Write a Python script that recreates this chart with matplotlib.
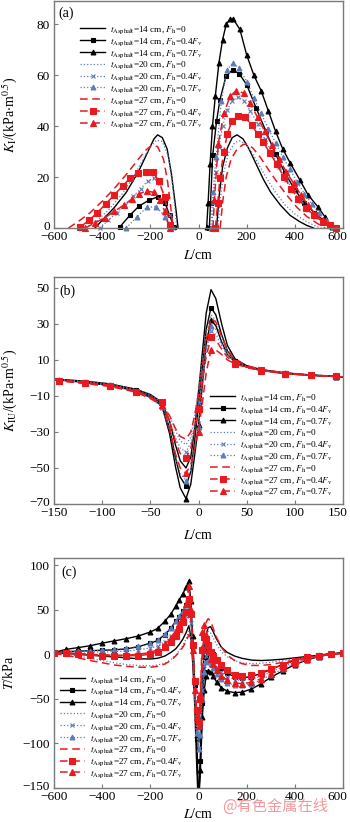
import numpy as np
import matplotlib
matplotlib.use('Agg')
import matplotlib.pyplot as plt
from matplotlib.transforms import ScaledTranslation

plt.rcParams['font.family'] = ['Liberation Serif', 'DejaVu Serif']
plt.rcParams['mathtext.fontset'] = 'stix'
plt.rcParams['axes.unicode_minus'] = True

nan = np.nan

# ---------- panel (a): K_I vs L, two humps per case (nan splits them)
a_L1 = [-430, -400, -350, -300, -250, -210, -185, -170, -150, -130, -112, -100, -92, -85, nan,
        75, 85, 100, 120, 140, 160, 185, 210, 240, 270, 300, 340, 380, 420, 450, 478]
a_K1 = [0, 3, 8, 14, 22, 30, 35, 36.6, 35.5, 31, 21, 12, 6, 0, nan,
        0, 12, 24, 31.5, 35.5, 36.6, 35, 31, 25, 19, 14, 9, 5, 2.5, 1, 0]
a_L2 = [-326, -284, -246, -204, -167, -139, -120, -102, nan,
        45, 50, 59, 75, 89, 114, 142, 170, 200, 240, 280, 320, 360, 400, 440, 480, 520, 560]
a_K2 = [0.5, 5.1, 8.7, 11, 12.3, 9.8, 5, 0.5, nan,
        0, 10, 28.7, 42, 50.4, 59.6, 62.2, 60.5, 56.3, 47, 38, 29, 21.5, 15, 10, 6, 3, 0.5]
a_L3 = [34, 40, 48, 58, 70, 85, 100, 115, 130, 145, 172, 200, 230, 260, 290, 320, 350, 380,
        420, 455, 495, 525, 555]
a_K3 = [0.5, 10, 25, 40, 52, 65, 74, 80, 82, 82, 78, 68, 60, 54, 46, 38, 31, 25.7,
        19, 13, 8.4, 4.4, 0.5]
a_L4 = [-470, -420, -370, -320, -270, -230, -200, -175, -150, -125, -108, -98, -90, nan,
        80, 90, 105, 125, 150, 170, 195, 220, 250, 280, 320, 360, 400, 440, 480, 510]
a_K4 = [0, 3, 7.5, 13, 20, 27, 32, 34.5, 34, 28, 17, 8, 0, nan,
        0, 11, 22, 29.5, 33.5, 34.3, 33, 30, 25, 20, 14, 9, 5.5, 3, 1, 0]
a_L5 = [-410, -375, -340, -305, -270, -240, -210, -185, -160, -140, -120, -105, nan,
        55, 62, 72, 85, 100, 120, 140, 165, 190, 215, 245, 275, 305, 335, 365, 395, 425,
        455, 485, 515, 545, 565]
a_K5 = [0, 3, 6, 9, 12.5, 15.5, 18.5, 19.5, 17.5, 12, 5, 0, nan,
        0, 10, 22, 32, 40, 46.5, 50, 51.5, 50, 46, 41, 35, 29.5, 24, 19, 14.5, 10.5,
        7, 4.5, 2.5, 1, 0]
a_L6 = [-300, -254, -215, -176, -139, -120, nan,
        50, 60, 73, 95, 117, 142, 170, 200, 230, 260, 290, 320, 350, 380, 410, 440, 470,
        500, 530, 560]
a_K6 = [0, 4.5, 8.1, 8.4, 4.5, 0, nan,
        0, 14, 28, 50, 62, 64.8, 62.8, 57.5, 51, 45, 39, 33.5, 28, 23, 18, 13.5, 9.5,
        6, 3, 0.5]
a_L7 = [-540, -500, -450, -400, -350, -300, -250, -220, -195, -170, -145, -128, -115, -105, nan,
        90, 100, 115, 135, 160, 185, 200, 225, 255, 290, 330, 370, 410, 450, 490, 525]
a_K7 = [0, 2.5, 6, 10.5, 15.5, 21, 27, 30.5, 32.5, 32, 27, 18, 8, 0, nan,
        0, 10, 20, 27, 31, 32.8, 33, 31.5, 28, 23, 17.5, 12.5, 8, 4.5, 2, 0]
a_L8 = [-490, -455, -420, -385, -350, -315, -285, -250, -220, -190, -165, -140, -120, nan,
        70, 80, 89, 105, 120, 138, 165, 193, 221, 245, 269, 297, 325, 355, 385, 415, 445,
        480, 515, 545, 570]
a_K8 = [0.5, 3, 6, 9.5, 13, 16.5, 19.5, 21.5, 22, 22, 18.5, 12, 1, nan,
        0, 10, 19.6, 30, 37, 41.9, 44, 43.6, 40.5, 37, 33.6, 29.5, 25, 20, 15.5, 11.5, 8,
        5, 2.5, 1, 0]
a_L9 = [-470, -430, -390, -350, -310, -275, -245, -215, -185, -160, -140, -120, nan,
        60, 66, 82, 105, 131, 156, 187, 215, 245, 275, 305, 335, 365, 395, 425, 455, 485,
        515, 545, 570]
a_K9 = [0, 2, 4, 6.5, 9, 11.5, 13.5, 14.5, 14, 11, 6.5, 0, nan,
        0, 11, 33, 45, 51.7, 54, 53, 49, 43.5, 38, 32.5, 27, 22, 17.5, 13, 9, 5.5,
        3, 1, 0]

# ---------- panel (b): K_IU vs L
b_L = [-150, -145, -118, -92, -65, -50, -38, -30, -24, -19, -13, -8, -4, 0, 4, 8, 13, 18, 24,
       30, 38, 50, 65, 90, 117, 143, 150]
b_K1 = [-0.6, -0.8, -1.8, -3.3, -6.3, -9.2, -13.5, -24, -37, -46, -50, -44, -28, -8, 14, 36, 49,
        44, 30, 18, 10.5, 6.8, 4.6, 2.8, 1.6, 0.8, 0.6]
b_K2 = [-0.8, -1.0, -2.2, -3.8, -6.8, -10, -14.5, -28, -44, -55, -60, -52, -35, -15, 6, 27, 39,
        35, 24, 15, 9.5, 6.3, 4.3, 2.6, 1.5, 0.8, 0.6]
b_K3 = [-1.0, -1.2, -2.5, -4.2, -7.2, -10.8, -15.5, -31, -49, -61, -67, -59, -43, -26, -4, 19, 32,
        29, 20, 13, 8.8, 6.0, 4.1, 2.5, 1.4, 0.7, 0.5]
b_K4 = [-0.7, -0.9, -1.9, -3.4, -6.4, -9.3, -13.5, -21, -29, -35, -37, -33, -21, -6, 10, 25, 35,
        32, 23, 15, 9.5, 6.5, 4.5, 2.8, 1.6, 0.8, 0.6]
b_K5 = [-0.9, -1.1, -2.3, -3.9, -7.0, -10.3, -15, -24, -33, -39, -41, -36, -26, -14, 1, 16, 26,
        24, 18, 12.5, 8.8, 6.1, 4.2, 2.6, 1.5, 0.8, 0.6]
b_K6 = [-1.0, -1.2, -2.6, -4.3, -7.5, -11.2, -16, -29, -43, -53, -57, -51, -39, -27, -6, 15, 29,
        27, 19, 13, 8.8, 6.0, 4.1, 2.5, 1.4, 0.7, 0.5]
b_K7 = [-0.9, -1.1, -2.4, -4.0, -7.2, -10.5, -15, -21, -28, -32.5, -34, -30, -21, -9, 6, 21, 33,
        31, 23, 15.5, 10, 6.8, 4.6, 2.8, 1.6, 0.9, 0.7]
b_K8 = [-1.0, -1.5, -3.0, -4.5, -7.6, -11, -13.5, -24, -35, -42, -44.5, -39, -29, -17, -2, 12, 22.5,
        21, 16, 11.5, 8.5, 6.0, 4.3, 2.3, 1.4, 0.8, 0.6]
b_K9 = [-1.1, -1.6, -3.1, -4.7, -7.9, -11.5, -15, -28, -42, -50, -53, -48, -39, -30, -14, 3, 15.5,
        15.5, 13, 10, 7.8, 5.7, 4.1, 2.3, 1.4, 0.8, 0.6]
b_marks = [1, 2, 3, 4, 6, 10, 13, 16, 20, 22, 23, 24, 25]

# ---------- panel (c): T vs L
c_L = [-600, -550, -500, -450, -400, -350, -300, -250, -200, -170, -140, -115, -95, -80, -65,
       -52, -40, -32, -24, -16, -8, 0, 8, 16, 24, 32, 40, 50, 60, 75, 95, 120, 150, 180, 220,
       260, 300, 350, 400, 450, 500, 550, 600]
c_T1 = [1.5, 1, 0, -1, -2, -3, -4, -5, -5.3, -4.5, -2, 2, 6, 11, 17,
        24, 32, 20, -10, -55, -120, -175, -110, -30, 5, 22, 30, 31, 26, 17, 8, 2, -2, -4.5, -6.5,
        -7, -6.5, -5.5, -4, -2.5, -1, 0.5, 1.5]
c_T2 = [2, 3, 3.5, 4, 4.5, 5, 6, 8.5, 12.5, 15.5, 22, 29, 37, 42, 48,
        55, 62, 45, 10, -35, -95, -165, -120, -55, -20, -3, 4, 4, 0, -7, -15, -21, -25.5, -26.5, -25,
        -21.5, -17, -11.5, -7, -3.5, -1, 0.5, 1.5]
c_T3 = [2, 5.5, 7.5, 9.6, 12.5, 15, 17.5, 20.5, 25, 29, 37, 45, 54, 61, 68,
        75, 82, 60, 20, -30, -90, -170, -130, -70, -40, -24, -18.5, -20, -24, -31, -37.5, -41.5, -43,
        -42.5, -39, -33, -26, -18.5, -11.5, -6.5, -2.5, 0, 1.5]
c_T4 = [1, 0, -2, -4.5, -7, -9.5, -11.5, -12.5, -13, -12, -10, -6, -1, 4, 10,
        17, 26, 18, -5, -45, -85, -105, -75, -25, 8, 22, 26, 24, 19, 11, 3, -3, -7, -9.5, -10.5,
        -10, -9, -7, -5, -3, -1.5, 0, 1]
c_T5 = [2, 2.5, 2.5, 2.5, 2.5, 3, 3.5, 5, 7, 9, 14, 20, 26, 31, 37,
        43, 50, 35, 5, -40, -85, -105, -80, -40, -12, -2, 0, -3, -8, -14, -20, -25, -28.5, -29.5,
        -28, -24.5, -20, -14, -9, -5, -2, 0, 1]
c_T6 = [2, 3, 3.5, 4, 4.5, 5.5, 6.5, 9, 13, 16.5, 23, 30, 37, 43, 49,
        55, 61, 45, 10, -40, -88, -106, -90, -50, -20, -9, -8, -11, -15, -22, -28, -32, -34.5, -35,
        -33, -29, -23, -16.5, -10.5, -6, -2.5, 0, 1.5]
c_T7 = [1, -1, -4, -7, -9.5, -12, -13.5, -14.5, -14.6, -13.5, -11, -7, -2, 2.5, 8,
        14, 22, 18, 0, -35, -65, -78, -55, -5, 25, 36, 40, 37, 30, 19, 8, -1, -7, -10.5, -12.5,
        -12.5, -11.5, -9, -6.5, -4, -2, 0, 1]
c_T8 = [1.5, 1, 0, -1, -1.5, -2, -1.5, -1.5, 0, 3, 8, 14, 21, 28, 36,
        47, 62, 45, 10, -30, -62, -76, -50, 5, 19, 17, 10, 3, -2, -6, -12, -18, -23.5, -24.5,
        -23.5, -20.5, -16.5, -11.5, -7, -3.5, -1.5, 0, 1]
c_T9 = [1.5, 1.5, 1, 0, -0.5, -1, -1, 0, 2, 5, 11, 18, 26, 34, 43,
        56, 77, 50, 5, -40, -70, -80, -45, 25, 33, 22, 5, -5, -11, -18, -24, -29, -32, -33,
        -31.5, -27.5, -22, -15.5, -9.5, -5, -2, 0, 1]

labels = [r'$t_{\rm Asphalt}$=14 cm, $F_{\rm h}$=0',
          r'$t_{\rm Asphalt}$=14 cm, $F_{\rm h}$=0.4$F_{\rm v}$',
          r'$t_{\rm Asphalt}$=14 cm, $F_{\rm h}$=0.7$F_{\rm v}$',
          r'$t_{\rm Asphalt}$=20 cm, $F_{\rm h}$=0',
          r'$t_{\rm Asphalt}$=20 cm, $F_{\rm h}$=0.4$F_{\rm v}$',
          r'$t_{\rm Asphalt}$=20 cm, $F_{\rm h}$=0.7$F_{\rm v}$',
          r'$t_{\rm Asphalt}$=27 cm, $F_{\rm h}$=0',
          r'$t_{\rm Asphalt}$=27 cm, $F_{\rm h}$=0.4$F_{\rm v}$',
          r'$t_{\rm Asphalt}$=27 cm, $F_{\rm h}$=0.7$F_{\rm v}$']

# styles
blue = '#5b7db8'
red = '#e8191f'
colors = ['k', 'k', 'k', blue, blue, blue, red, red, red]
dash = (0, (5, 3))
styles = ['-', '-', '-', ':', ':', ':', dash, dash, dash]
markers = ['None', 's', '^', 'None', 'x', '^', 'None', 's', '^']
msizes = [0, 3, 3.5, 0, 3, 3.5, 0, 4.5, 4]
lwidths = [1.0, 1.0, 1.0, 0.9, 0.9, 0.9, 1.1, 1.1, 1.1]

gray = '#7a7a7a'

fig = plt.figure(figsize=(3.5, 8.22), dpi=100)


def shift(text, dx, dy):
    text.set_transform(text.get_transform() + ScaledTranslation(dx / 72, dy / 72, fig.dpi_scale_trans))


def style_axes(ax):
    for s in ax.spines.values():
        s.set_color(gray)
        s.set_linewidth(1.0)
    ax.tick_params(direction='in', length=3, width=0.8, color=gray, labelsize=9.5,
                   top=False, right=False)
    ax.tick_params(axis='x', pad=2.5)
    ax.tick_params(axis='y', pad=3)
    # pull the last x label inside the figure edge, lift the lowest y label a bit
    shift(ax.get_xticklabels()[-1], -4, 0)
    shift(ax.get_yticklabels()[0], 0, 2)


def draw(ax, xs, ys, markevery=None, clip=True):
    for i in range(9):
        ax.plot(xs[i], ys[i], color=colors[i], linestyle=styles[i], linewidth=lwidths[i],
                marker=markers[i], markersize=msizes[i], markeredgewidth=0.8,
                markevery=markevery, label=labels[i], clip_on=clip)


def legend(ax, loc, anchor):
    ax.legend(loc=loc, bbox_to_anchor=anchor, frameon=False, fontsize=6.7,
              handlelength=2.7, handletextpad=0.55, labelspacing=0.0,
              borderpad=0, borderaxespad=0)


# (a)
ax1 = fig.add_axes([54 / 350, 1 - 228 / 822, 289 / 350, 226.5 / 822])
draw(ax1, [a_L1, a_L2, a_L3, a_L4, a_L5, a_L6, a_L7, a_L8, a_L9],
     [a_K1, a_K2, a_K3, a_K4, a_K5, a_K6, a_K7, a_K8, a_K9], clip=False)
ax1.set_xlim(-600, 600)
ax1.set_ylim(0, 89)
ax1.set_xticks([-600, -400, -200, 0, 200, 400, 600])
ax1.set_yticks([0, 20, 40, 60, 80])
style_axes(ax1)
ax1.set_xlabel(r'$L$/cm', fontsize=10)
ax1.set_ylabel(r'$K_{\rm I}$/(kPa$\cdot$m$^{0.5}$)', fontsize=10)
ax1.xaxis.set_label_coords(0.5, -0.088)
ax1.yaxis.set_label_coords(-0.12, 0.5)
ax1.text(0.014, 0.95, '(a)', transform=ax1.transAxes, fontsize=10, va='center', ha='left')
legend(ax1, 'upper left', (0.09, 0.9))

# (b)
ax2 = fig.add_axes([54 / 350, 1 - 504 / 822, 289 / 350, 227 / 822])
draw(ax2, [b_L] * 9, [b_K1, b_K2, b_K3, b_K4, b_K5, b_K6, b_K7, b_K8, b_K9],
     markevery=b_marks)
ax2.set_xlim(-150, 150)
ax2.set_ylim(-70, 56)
ax2.set_xticks([-150, -100, -50, 0, 50, 100, 150])
ax2.set_yticks([-70, -50, -30, -10, 10, 30, 50])
style_axes(ax2)
ax2.set_xlabel(r'$L$/cm', fontsize=10)
ax2.set_ylabel(r'$K_{\rm IU}$/(kPa$\cdot$m$^{0.5}$)', fontsize=10)
ax2.xaxis.set_label_coords(0.5, -0.106)
ax2.yaxis.set_label_coords(-0.12, 0.5)
ax2.text(0.02, 0.935, '(b)', transform=ax2.transAxes, fontsize=10, va='center', ha='left')
legend(ax2, 'lower left', (0.54, 0.025))

# (c)
ax3 = fig.add_axes([54 / 350, 1 - 788 / 822, 289 / 350, 230 / 822])
draw(ax3, [c_L] * 9, [c_T1, c_T2, c_T3, c_T4, c_T5, c_T6, c_T7, c_T8, c_T9])
ax3.set_xlim(-600, 600)
ax3.set_ylim(-150, 108)
ax3.set_xticks([-600, -400, -200, 0, 200, 400, 600])
ax3.set_yticks([-150, -100, -50, 0, 50, 100])
style_axes(ax3)
ax3.set_xlabel(r'$L$/cm', fontsize=10)
ax3.set_ylabel(r'$T$/kPa', fontsize=10)
ax3.xaxis.set_label_coords(0.5, -0.083)
ax3.yaxis.set_label_coords(-0.13, 0.5)
ax3.text(0.027, 0.94, '(c)', transform=ax3.transAxes, fontsize=10, va='center', ha='left')
legend(ax3, 'lower left', (0.02, 0.035))

fig.text(0.786, 0.019, '@有色金属在线', color='#f08080', alpha=0.8, fontsize=11,
         ha='center', va='center', family=['Noto Sans CJK SC', 'DejaVu Sans'])

fig.savefig('out.png', dpi=100)
